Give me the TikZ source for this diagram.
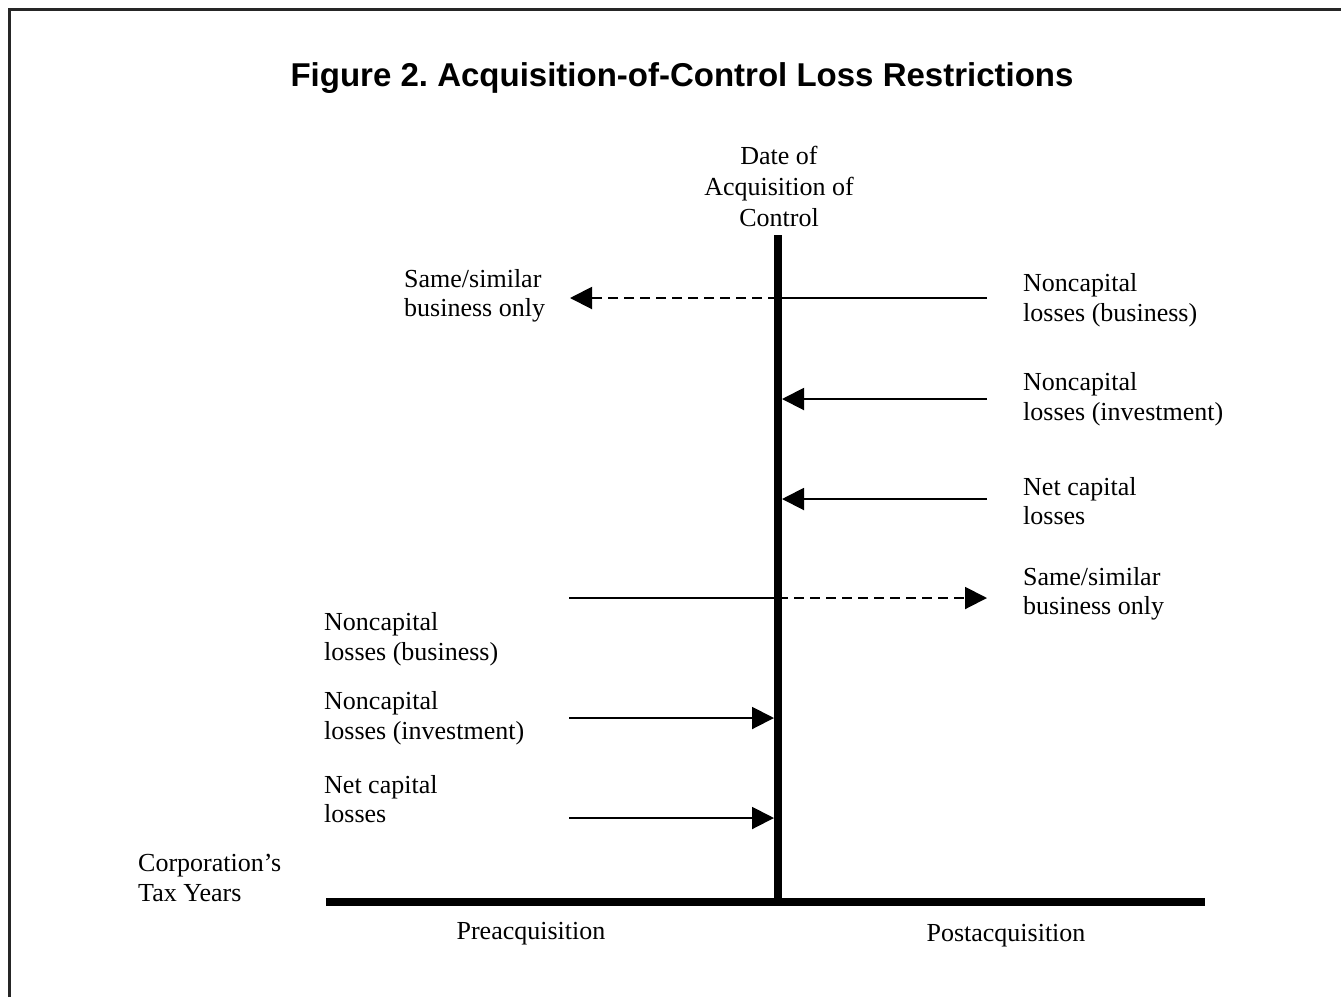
\documentclass[tikz,border=0pt]{standalone}
\usepackage{fontspec}
\setmainfont{Liberation Serif}
\setsansfont{Liberation Sans}
\usetikzlibrary{arrows.meta}
\frenchspacing

\tikzset{
  lbl/.style={anchor=west,align=left,inner sep=0pt,font=\fontsize{26}{29.5}\selectfont},
  lossarrow/.style={line width=2pt,-{Triangle[length=22pt,width=22pt]}},
  lossline/.style={line width=2pt},
  restricted/.style={dash pattern=on 10pt off 6pt},
  axis/.style={line width=8pt},
}

\begin{document}
\begin{tikzpicture}[x=1pt,y=-1pt]
  \useasboundingbox (0,0) rectangle (1341,997);
  \draw[line width=3pt,black!85] (9,997) -- (9,9) -- (1341,9);

  \node[font=\sffamily\bfseries\fontsize{33}{38}\selectfont] (title) at (682,78)
    {Figure 2. Acquisition-of-Control Loss Restrictions};

  % time axis and date of acquisition
  \coordinate (ctop) at (778,235);
  \coordinate (cbot) at (778,906);
  \coordinate (ax1) at (326,902);
  \coordinate (ax2) at (1205,902);
  \draw[axis] (ctop) -- (cbot);
  \draw[axis] (ax1) -- (ax2);
  \node[lbl,anchor=center,align=center,font=\fontsize{26}{31}\selectfont] (date) at (779,186) {Date of\\Acquisition of\\Control};
  \node[lbl] (years) at (138,878) {Corporation's\\Tax Years};
  \node[lbl,anchor=center] (pre) at (531,934) {Preacquisition};
  \node[lbl,anchor=center] (post) at (1006,936) {Postacquisition};

  % postacquisition losses
  \node[lbl] (postbus) at (1023,300) {Noncapital\\losses (business)};
  \node[lbl] (postinv) at (1023,399) {Noncapital\\losses (investment)};
  \node[lbl] (postcap) at (1023,501) {Net capital\\losses};
  \node[lbl] (postsame) at (1023,594) {Same/similar\\business only};
  \node[lbl] (presame) at (404,296) {Same/similar\\business only};

  \coordinate (r1) at (987,298);
  \coordinate (m1) at (778,298);
  \coordinate (l1) at (570,298);
  \draw[lossline] (r1) -- (m1);
  \draw[lossarrow,restricted] (m1) -- (l1);

  \coordinate (r2) at (987,399);
  \coordinate (e2) at (782,399);
  \draw[lossarrow] (r2) -- (e2);

  \coordinate (r3) at (987,499);
  \coordinate (e3) at (782,499);
  \draw[lossarrow] (r3) -- (e3);

  % preacquisition losses
  \node[lbl] (prebus) at (324,639) {Noncapital\\losses (business)};
  \node[lbl] (preinv) at (324,718) {Noncapital\\losses (investment)};
  \node[lbl] (precap) at (324,799) {Net capital\\losses};

  \coordinate (l4) at (569,598);
  \coordinate (m4) at (778,598);
  \coordinate (r4) at (987,598);
  \draw[lossline] (l4) -- (m4);
  \draw[lossarrow,restricted] (m4) -- (r4);

  \coordinate (l5) at (569,718);
  \coordinate (e5) at (774,718);
  \draw[lossarrow] (l5) -- (e5);

  \coordinate (l6) at (569,818);
  \coordinate (e6) at (774,818);
  \draw[lossarrow] (l6) -- (e6);
\end{tikzpicture}
\end{document}
